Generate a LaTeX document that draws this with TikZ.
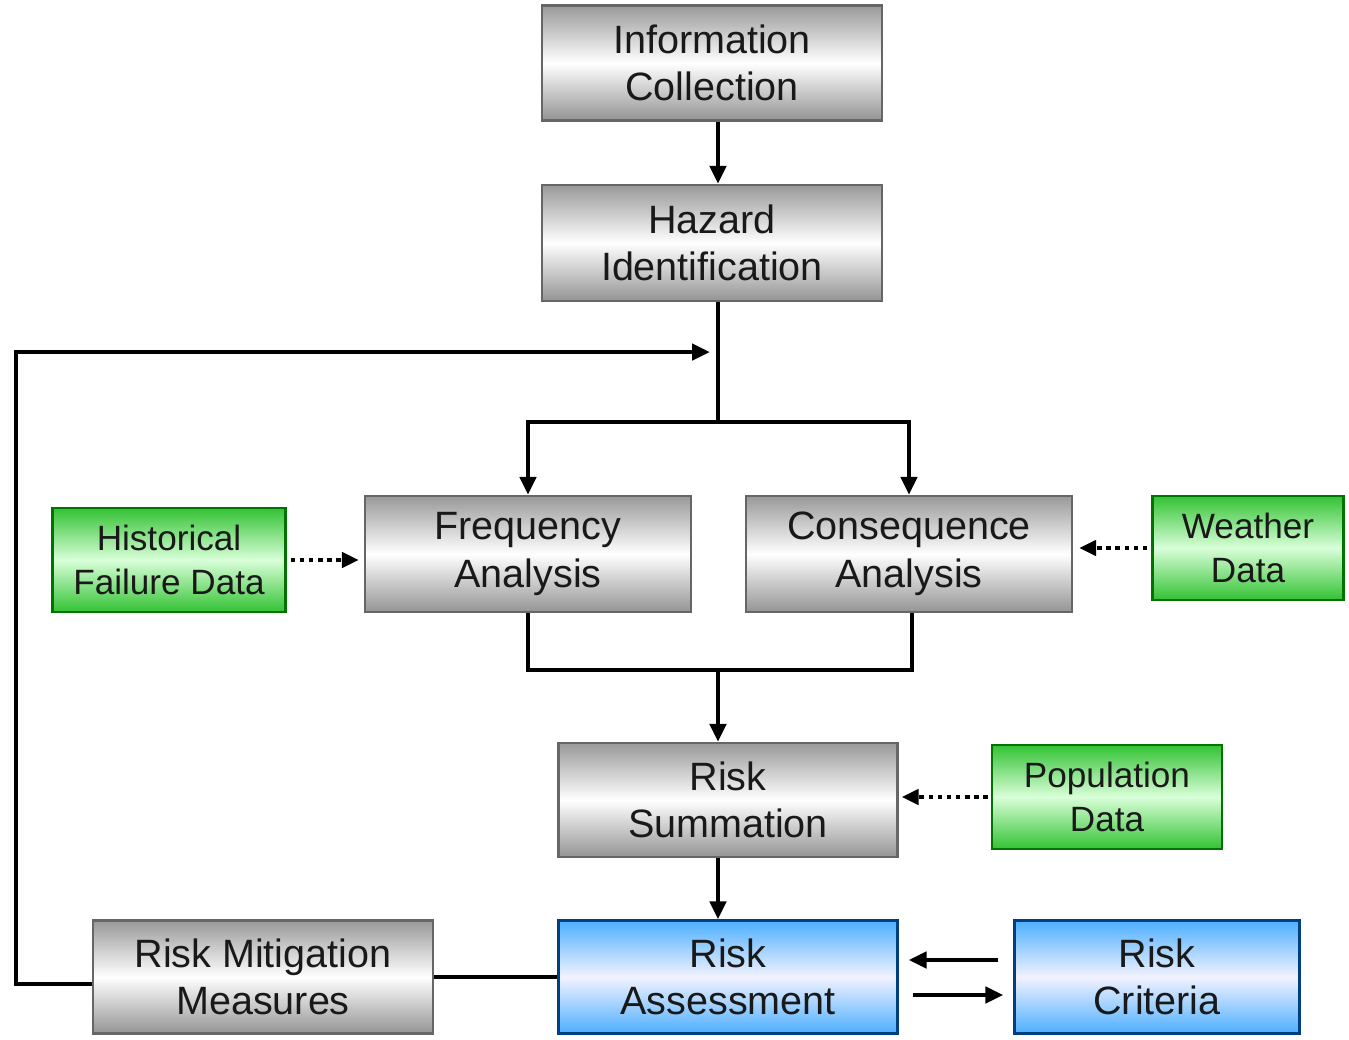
\documentclass[tikz,border=0pt]{standalone}
\usepackage{fontspec}
\setmainfont{Liberation Sans}
\usetikzlibrary{arrows.meta}

\tikzset{
  box/.style={line width=1.3pt, align=center, inner sep=0pt, text=black!90,
    font=\fontsize{22.5}{27}\selectfont},
  graybox/.style={box, draw=black!60, top color=black!40, bottom color=black!42, middle color=white},
  greenbox/.style={box, draw=green!45!black, top color=green!70!black!80, bottom color=green!70!black!80,
    middle color=green!15, font=\fontsize{20}{25}\selectfont},
  bluebox/.style={box, draw=blue!50!cyan!50!black, top color=blue!45!cyan!70, bottom color=blue!45!cyan!70,
    middle color=blue!5},
  flow/.style={line width=2.6pt, -{Triangle[length=0.36cm,width=0.32cm]}},
  line/.style={line width=2.6pt},
  datalink/.style={line width=2.6pt, dash pattern=on 2.6pt off 2.6pt, -{Triangle[length=0.34cm,width=0.3cm]}}
}

\begin{document}
\begin{tikzpicture}[x=0.02cm, y=-0.02cm]
        \useasboundingbox (0,0) rectangle (1349,1039);
        % main chain
        \node[graybox, minimum width=6.8cm, minimum height=2.3cm] (info) at (712,63) {Information\\Collection};
        \node[graybox, minimum width=6.8cm, minimum height=2.32cm] (hazard) at (712,243) {Hazard\\Identification};
        \node[graybox, minimum width=6.52cm, minimum height=2.32cm] (freq) at (528,554) {Frequency\\Analysis};
        \node[graybox, minimum width=6.52cm, minimum height=2.32cm] (cons) at (909,554) {Consequence\\Analysis};
        \node[graybox, minimum width=6.78cm, minimum height=2.28cm] (sum) at (728,800) {Risk\\Summation};
        \node[bluebox, minimum width=6.78cm, minimum height=2.26cm] (assess) at (728,977) {Risk\\Assessment};
        \node[bluebox, minimum width=5.7cm, minimum height=2.26cm] (crit) at (1157,977) {Risk\\Criteria};
        \node[graybox, minimum width=6.8cm, minimum height=2.26cm] (mitig) at (263,977) {Risk Mitigation\\Measures};
        % data inputs
        \node[greenbox, minimum width=4.66cm, minimum height=2.08cm] (hist) at (169,560) {Historical\\Failure Data};
        \node[greenbox, minimum width=3.82cm, minimum height=2.08cm] (weather) at (1248,548) {Weather\\Data};
        \node[greenbox, minimum width=4.6cm, minimum height=2.08cm] (pop) at (1107,797) {Population\\Data};
        % helper points
        \coordinate (split) at (718,422);
        \coordinate (join) at (718,670);
        \coordinate (loop) at (710,352);
        % arrows
        \draw[flow] (info.south -| 718,0) -- (hazard.north -| 718,0);
        \draw[line] (hazard.south -| 718,0) -- (split);
        \draw[flow] (split) -| (freq.north);
        \draw[flow] (split) -| (cons.north);
        \draw[line] (freq.south) |- (join) -| ([xshift=0.06cm]cons.south);
        \draw[flow] (join) -- (sum.north -| 718,0);
        \draw[flow] (sum.south -| 718,0) -- (assess.north -| 718,0);
        \draw[line] (mitig.east) -- (assess.west);
        \draw[flow] ([yshift=-0.14cm]mitig.west) -| (16,352) -- (loop);
        \draw[flow] ([xshift=-0.3cm,yshift=0.34cm]crit.west) -- ([xshift=0.2cm,yshift=0.34cm]assess.east);
        \draw[flow] ([xshift=0.28cm,yshift=-0.36cm]assess.east) -- ([xshift=-0.2cm,yshift=-0.36cm]crit.west);
        \draw[datalink] ([xshift=0.08cm]hist.east) -- ([xshift=-0.1cm]hist.east -| freq.west);
        \draw[datalink] ([xshift=-0.08cm]weather.west) -- ([xshift=0.12cm]weather.west -| cons.east);
        \draw[datalink] ([xshift=-0.06cm]pop.west) -- ([xshift=0.06cm]pop.west -| sum.east);
\end{tikzpicture}
\end{document}
